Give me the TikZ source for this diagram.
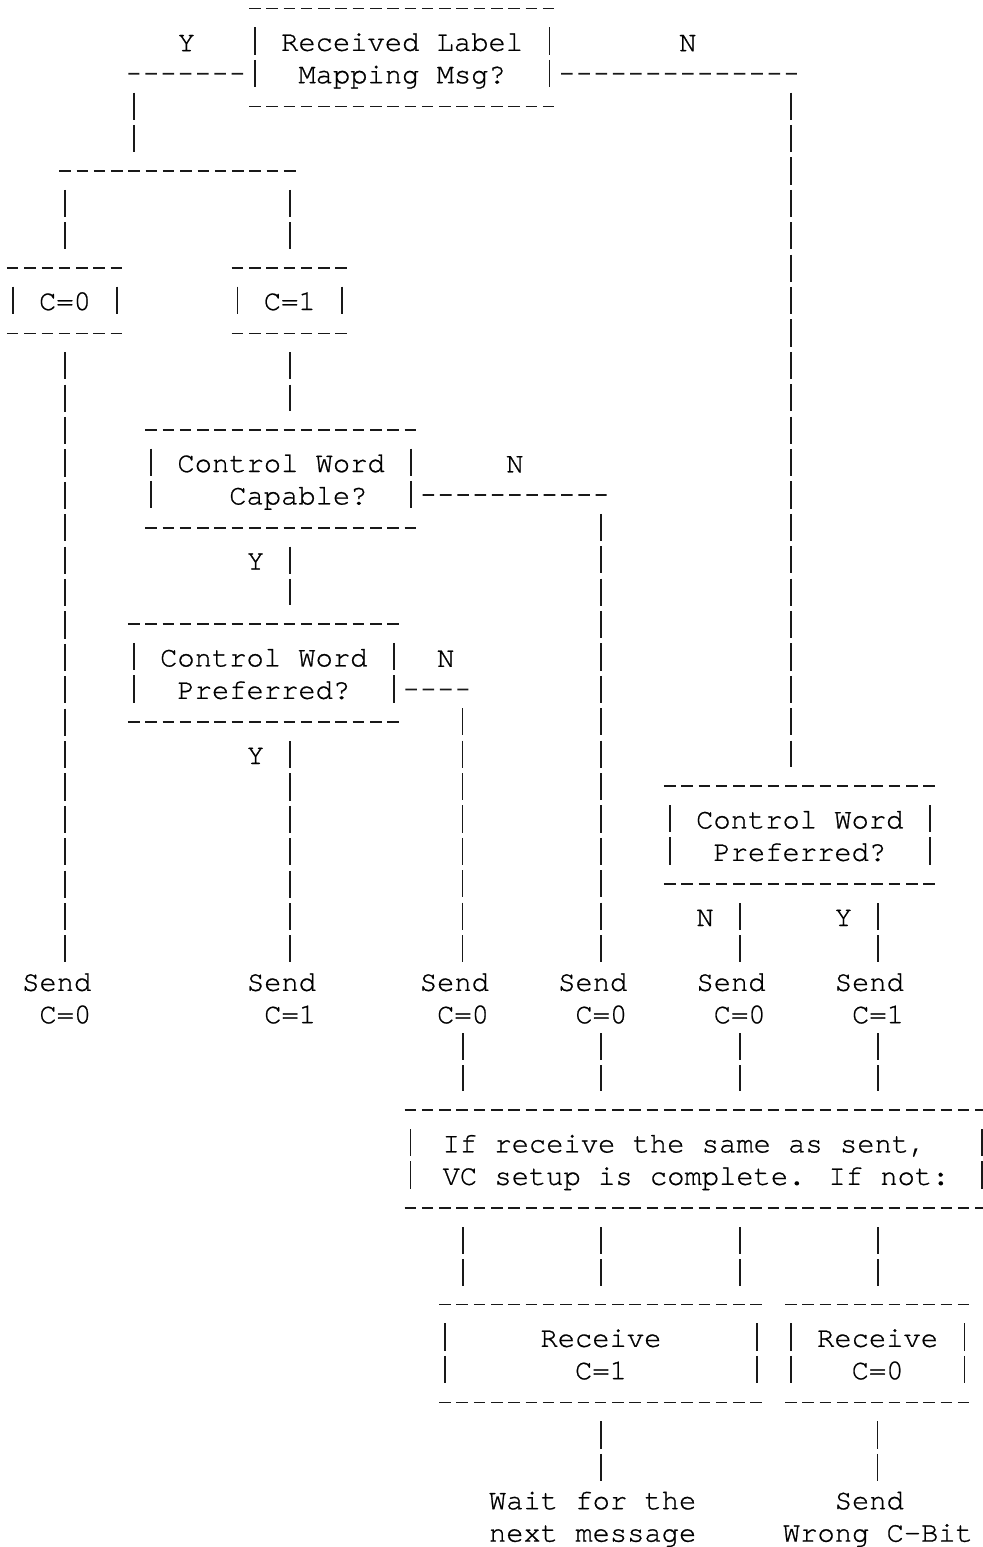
\documentclass[tikz,border=0pt]{standalone}
\usepackage{fontspec}
\newfontfamily\asciifont[FakeBold=0.8]{texgyrecursor-regular.otf}
\newcommand\ctext[2]{\vtop{\halign{\hfil##\hfil\cr#1\cr#2\cr}}}
\newcommand\ltext[2]{\vtop{\halign{##\hfil\cr#1\cr#2\cr}}}
\newcommand\rtext[2]{\vtop{\halign{\hfil##\cr#1\cr#2\cr}}}

\begin{document}
\begin{tikzpicture}[x=8.645pt, y=-16.2pt,
  every node/.style={inner sep=0pt, font=\asciifont\fontsize{14.4pt}{16.2pt}\selectfont},
  oneline/.style={text height=12.8pt, text depth=3.4pt},
  twoline/.style={text height=12.8pt, text depth=19.6pt},
  qbox/.style={twoline, minimum width=#1*8.645pt, minimum height=48.6pt},
  cbox/.style={oneline, minimum width=51.87pt, minimum height=32.4pt},
  hl/.style={draw=black!90, line width=0.85pt, dash pattern=on 5.765pt off 2.88pt},
  vl/.style={draw=black!90, line width=0.85pt, dash pattern=on 13.6pt off 2.6pt}]
\useasboundingbox (-6.55pt,4.5pt) rectangle (484.45pt,-769pt);

\node (recv) at (22.5,1.5) [qbox=17] {\ctext{Received Label}{Mapping Msg?}};
\node (czero) at (3,9) [cbox] {C=0};
\node (cone) at (16,9) [cbox] {C=1};
\node (capable) at (15.5,14.5) [qbox=15] {\ctext{Control Word}{\hphantom{xx}Capable?}};
\node (prefl) at (14.5,20.5) [qbox=15] {\ctext{Control Word}{Preferred?}};
\node (prefr) at (45.5,25.5) [qbox=15] {\ctext{Control Word}{Preferred?}};
\node (same) at (39.5,35.5) [qbox=33] {\ltext{If receive the same as sent,}{VC setup is complete. If not:}};
\node (rxone) at (34,41.5) [qbox=18] {\ctext{Receive}{C=1}};
\node (rxzero) at (50,41.5) [qbox=10] {\ctext{Receive}{C=0}};

\node (sendz1) at (0.5,29.5) [twoline, anchor=north west] {\rtext{Send}{C=0}};
\node (sendo1) at (13.5,29.5) [twoline, anchor=north west] {\rtext{Send}{C=1}};
\node (sendz2) at (23.5,29.5) [twoline, anchor=north west] {\rtext{Send}{C=0}};
\node (sendz3) at (31.5,29.5) [twoline, anchor=north west] {\rtext{Send}{C=0}};
\node (sendz4) at (39.5,29.5) [twoline, anchor=north west] {\rtext{Send}{C=0}};
\node (sendo2) at (47.5,29.5) [twoline, anchor=north west] {\rtext{Send}{C=1}};
\node (wait) at (27.5,45.5) [twoline, anchor=north west] {\ctext{Wait for the}{next message}};
\node (wrong) at (44.5,45.5) [twoline, anchor=north west] {\ctext{Send\hphantom{x}}{Wrong C-Bit}};

\node (yrecv) at (9.5,0.5) [oneline, anchor=north west] {Y};
\node (nrecv) at (38.5,0.5) [oneline, anchor=north west] {N};
\node (ncap) at (28.5,13.5) [oneline, anchor=north west] {N};
\node (ycap) at (13.5,16.5) [oneline, anchor=north west] {Y};
\node (npref) at (24.5,19.5) [oneline, anchor=north west] {N};
\node (ypref) at (13.5,22.5) [oneline, anchor=north west] {Y};
\node (nprefr) at (39.5,27.5) [oneline, anchor=north west] {N};
\node (yprefr) at (47.5,27.5) [oneline, anchor=north west] {Y};

\coordinate (yturn) at (7,2);
\coordinate (ybar) at (7,5);
\coordinate (nturn) at (45,2);
\coordinate (ncturn) at (34,15);
\coordinate (npturn) at (26,21);

% ascii box frames
\foreach \b in {recv,czero,cone,capable,prefl,prefr,same,rxone,rxzero} {
  \draw[hl] ([shift={(-0.333,0)}]\b.north west) -- ([shift={(0.333,0)}]\b.north east);
  \draw[hl] ([shift={(-0.333,0)}]\b.south west) -- ([shift={(0.333,0)}]\b.south east);
  \draw[vl] ([shift={(0,0.58)}]\b.north west) -- ([shift={(0,-0.58)}]\b.south west);
  \draw[vl] ([shift={(0,0.58)}]\b.north east) -- ([shift={(0,-0.58)}]\b.south east);
}

% Y branch of the label mapping test
\draw[hl] ([shift={(-0.667,0.5)}]recv.west) -- ([shift={(-0.333,0)}]yturn);
\draw[vl] ([shift={(0,0.58)}]yturn) -- ([shift={(0,-0.58)}]ybar);
\draw[hl] ([shift={(-0.333,0)}]czero.north |- ybar) -- ([shift={(0.333,0)}]cone.north |- ybar);
\draw[vl] ([shift={(0,0.58)}]czero.north |- ybar) -- ([shift={(0,-0.58)}]czero.north);
\draw[vl] ([shift={(0,0.58)}]cone.north |- ybar) -- ([shift={(0,-0.58)}]cone.north);

% N branch
\draw[hl] ([shift={(0.667,0.5)}]recv.east) -- ([shift={(0.333,0)}]nturn);
\draw[vl] ([shift={(0,0.58)}]nturn) -- ([shift={(0,-0.58)}]nturn |- prefr.north);

\draw[vl] ([shift={(0,0.58)}]czero.south) -- ([shift={(0,-0.08)}]czero.south |- sendz1.north);
\draw[vl] ([shift={(0,0.58)}]cone.south) -- ([shift={(0,-0.58)}]cone.south |- capable.north);

\draw[hl] ([shift={(0.667,0.5)}]capable.east) -- ([shift={(0.333,0)}]ncturn);
\draw[vl] ([shift={(0,0.58)}]ncturn) -- ([shift={(0,-0.08)}]ncturn |- sendz3.north);
\draw[vl] ([shift={(0,0.58)}]cone.south |- capable.south) -- ([shift={(0,-0.58)}]cone.south |- prefl.north);

\draw[hl] ([shift={(0.667,0.5)}]prefl.east) -- ([shift={(0.333,0)}]npturn);
\draw[vl] ([shift={(0,0.58)}]npturn) -- ([shift={(0,-0.08)}]npturn |- sendz2.north);
\draw[vl] ([shift={(0,0.58)}]cone.south |- prefl.south) -- ([shift={(0,-0.08)}]cone.south |- sendo1.north);

\draw[vl] ([shift={(0.5,0.58)}]sendz4.north |- prefr.south) -- ([shift={(0.5,-0.08)}]sendz4.north);
\draw[vl] ([shift={(0.5,0.58)}]sendo2.north |- prefr.south) -- ([shift={(0.5,-0.08)}]sendo2.north);

\foreach \s in {sendz2,sendz3,sendz4,sendo2}
  \draw[vl] ([shift={(0.5,0.08)}]\s.south) -- ([shift={(0.5,-0.58)}]\s.south |- same.north);
\foreach \s/\rx in {sendz2/rxone,sendz3/rxone,sendz4/rxone,sendo2/rxzero}
  \draw[vl] ([shift={(0.5,0.58)}]\s.south |- same.south) -- ([shift={(0.5,-0.58)}]\s.south |- \rx.north);

\draw[vl] ([shift={(0,0.58)}]rxone.south) -- ([shift={(0,-0.08)}]wait.north -| rxone.south);
\draw[vl] ([shift={(0,0.58)}]rxzero.south) -- ([shift={(0,-0.08)}]wrong.north -| rxzero.south);
\end{tikzpicture}
\end{document}
